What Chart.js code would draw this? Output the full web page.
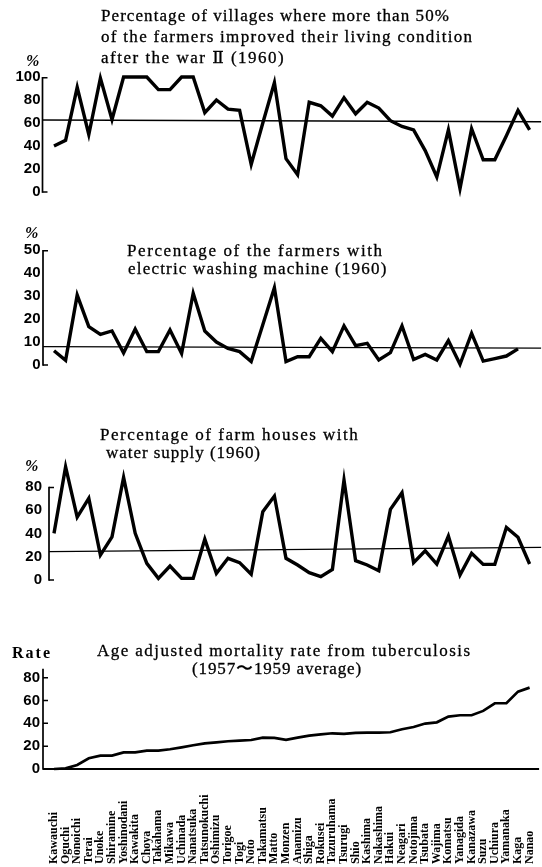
<!DOCTYPE html>
<html>
<head>
<meta charset="utf-8">
<script src="https://cdn.jsdelivr.net/npm/chart.js@4.4.1/dist/chart.umd.min.js"></script>
<style>
  html, body { margin: 0; padding: 0; background: #fff; }
  #page { position: relative; width: 542px; height: 867px; overflow: hidden; }
  #page canvas { position: absolute; left: 0; top: 0; }
  .t { position: absolute; white-space: pre; font-family: 'Liberation Serif', 'DejaVu Serif', serif; font-size: 17px; line-height: 17px; color: #000; -webkit-text-stroke: 0.3px #000; }
  .unit { position: absolute; white-space: pre; font-family: 'Liberation Serif', serif; font-weight: bold; font-size: 16px; line-height: 16px; color: #000; }
</style>
</head>
<body>
<div id="page">
  <canvas id="living" width="542" height="867"></canvas>
  <canvas id="washing" width="542" height="867"></canvas>
  <canvas id="water" width="542" height="867"></canvas>
  <canvas id="tb" width="542" height="867"></canvas>

  <div class="t" style="left:101px;top:6.5px;letter-spacing:1.07px">Percentage of villages where more than 50%</div>
  <div class="t" style="left:101px;top:27.5px;letter-spacing:1.3px">of the farmers improved their living condition</div>
  <div class="t" style="left:101px;top:48.5px;letter-spacing:1.5px">after the war Ⅱ (1960)</div>
  <div class="unit" style="left:26px;top:52.6px;font-style:italic">%</div>

  <div class="unit" style="left:25px;top:224.6px;font-style:italic">%</div>
  <div class="t" style="left:127px;top:241.5px;letter-spacing:1.6px">Percentage of the farmers with</div>
  <div class="t" style="left:128px;top:260.1px;letter-spacing:1.2px">electric washing machine (1960)</div>

  <div class="t" style="left:100px;top:426.3px;letter-spacing:1.5px">Percentage of farm houses with</div>
  <div class="t" style="left:106px;top:443.8px;letter-spacing:0.95px">water supply (1960)</div>
  <div class="unit" style="left:25px;top:457.6px;font-style:italic">%</div>

  <div class="unit" style="left:12px;top:644.6px;letter-spacing:2px">Rate</div>
  <div class="t" style="left:97px;top:641.5px;letter-spacing:1.45px">Age adjusted mortality rate from tuberculosis</div>
  <div class="t" style="left:192px;top:659.6px;letter-spacing:0.87px">(1957〜1959 average)</div>
</div>

<script>
const villages = [
  'Kawauchi', 'Oguchi', 'Nonoichi', 'Terai', 'Unoke', 'Shiramine', 'Yoshinodani',
  'Kawakita', 'Choya', 'Takahama', 'Mikawa', 'Uchinada', 'Nanatsuka', 'Tatsunokuchi',
  'Oshimizu', 'Torigoe', 'Togi', 'Noto', 'Takamatsu', 'Matto', 'Monzen', 'Anamizu',
  'Shiga', 'Rokusei', 'Tazuruhama', 'Tsurugi', 'Shio', 'Kashima', 'Nakashima', 'Hakui',
  'Neagari', 'Notojima', 'Tsubata', 'Wajima', 'Komatsu', 'Yanagida', 'Kanazawa', 'Suzu',
  'Uchiura', 'Yamanaka', 'Kaga', 'Nanao'
];

// % of villages where >50% of farmers improved their living (1960)
const livingImproved = [
  40, 45, 91, 50, 99, 63, 100, 100, 100, 89, 89, 100, 100, 69, 80, 72, 71, 24, 60, 95,
  29, 15, 78, 75, 66, 82, 68, 78, 73, 62, 57, 54, 36, 13, 54, 3, 55, 28, 28, 49, 71, 54
];
const livingRef = [62.6, 61.1];

// % of farmers owning an electric washing machine (1960), no figure for Nanao
const washingMachine = [
  6.2, 2, 30.4, 16.7, 13.3, 14.8, 5.2, 15.6, 5.8, 5.8, 15.2, 5, 31.2, 14.8, 10, 7.2, 5.8,
  1.5, 17.5, 33.6, 1.5, 3.6, 3.6, 11.6, 5.8, 17, 8.4, 9.4, 2.2, 5.4, 17, 2.4, 4.6, 2.2,
  10.6, 0.3, 13.8, 1.7, 2.8, 3.9, 7, null
];
const washingRef = [8.0, 7.3];

// % of farm houses with water supply (1960)
const waterSupply = [
  40, 97, 54, 70, 21.4, 37, 88, 40, 14.3, 1.4, 12, 1.4, 1.4, 35, 5.7, 18.6, 14.9, 5, 58.6,
  72, 18.6, 12.9, 6.3, 2.9, 9.1, 85.8, 16.6, 12.9, 8, 60.6, 74.9, 14.9, 25, 13.7, 37.7,
  4.3, 22.9, 13.4, 13.4, 45, 36.6, 13.7
];
const waterRef = [24.3, 28.0];

// age adjusted TB mortality rate, 1957-1959 average
const tbMortality = [
  0, 0.6, 3.5, 9.4, 11.7, 11.7, 14.6, 14.6, 16.1, 16.1, 17.3, 19, 20.8, 22.5, 23.4, 24.3,
  24.9, 25.4, 27.5, 27.2, 25.5, 27.5, 29.2, 30.4, 31.3, 30.7, 31.6, 31.9, 31.9, 32.2, 34.8,
  36.8, 39.8, 40.9, 45.9, 47.1, 47.1, 50.9, 57.6, 57.6, 67.8, 71.3
];

// y axis drawn as a bracket (or with tick marks), plus the horizontal reference line
function makeFrame(cfg) {
  return {
    id: 'frame',
    afterDatasetsDraw(chart) {
      const { ctx, chartArea, scales: { y } } = chart;
      const axisX = chartArea.left - cfg.axisGap;
      const rightX = chartArea.right + cfg.reach;
      const top = y.getPixelForValue(cfg.axisTop) - (cfg.overshoot || 0);
      const bottom = y.getPixelForValue(0);
      ctx.save();
      ctx.strokeStyle = '#000';

      if (cfg.ref) {
        ctx.lineWidth = cfg.refWidth || 1.3;
        ctx.beginPath();
        ctx.moveTo(axisX, y.getPixelForValue(cfg.ref[0]));
        ctx.lineTo(rightX, y.getPixelForValue(cfg.ref[1]));
        ctx.stroke();
      }

      ctx.lineWidth = 1.7;
      ctx.beginPath();
      ctx.moveTo(axisX, top);
      ctx.lineTo(axisX, bottom + 0.8);
      ctx.stroke();

      ctx.lineWidth = 1.5;
      ctx.beginPath();
      if (cfg.tickMarks) {
        y.ticks.forEach(t => {
          const py = y.getPixelForValue(t.value);
          ctx.moveTo(axisX, py);
          ctx.lineTo(axisX + 5, py);
        });
      } else {
        ctx.moveTo(axisX, top + 0.75);
        ctx.lineTo(axisX + 5, top + 0.75);
        ctx.moveTo(axisX, bottom);
        ctx.lineTo(axisX + 5, bottom);
      }
      ctx.stroke();
      ctx.restore();
    }
  };
}

// village names written upward from a common bottom line
const villageLabels = {
  id: 'villageLabels',
  afterDraw(chart) {
    const { ctx, scales: { x } } = chart;
    ctx.save();
    ctx.font = 'bold 12px "Liberation Serif", serif';
    ctx.fillStyle = '#000';
    ctx.textAlign = 'left';
    ctx.textBaseline = 'middle';
    x.getLabels().forEach((name, i) => {
      ctx.save();
      ctx.translate(x.getPixelForValue(i), 864);
      ctx.rotate(-Math.PI / 2);
      ctx.fillText(name, 0, 0);
      ctx.restore();
    });
    ctx.restore();
  }
};

function makeChart(id, values, cfg) {
  const plugins = [makeFrame(cfg)];
  if (cfg.withLabels) plugins.push(villageLabels);
  return new Chart(document.getElementById(id), {
    type: 'line',
    data: {
      labels: villages,
      datasets: [{
        data: values,
        borderColor: '#000',
        borderWidth: cfg.lineWidth,
        pointRadius: 0,
        tension: 0,
        fill: false,
        clip: false
      }]
    },
    options: {
      responsive: false,
      animation: false,
      devicePixelRatio: 1,
      events: [],
      layout: { padding: { top: cfg.top, bottom: 867 - cfg.bottom, left: 0, right: 12.4 } },
      scales: {
        x: { display: false },
        y: {
          min: 0,
          max: cfg.max,
          grid: { display: false, drawTicks: false },
          border: { display: false },
          ticks: {
            stepSize: cfg.step,
            padding: cfg.labelGap,
            color: '#000',
            font: { family: 'Liberation Sans', weight: 'bold', size: 15 }
          },
          afterBuildTicks(scale) {
            scale.ticks = scale.ticks.filter(t => t.value <= cfg.axisTop);
          },
          afterFit(scale) { scale.width = 54; }
        }
      },
      plugins: {
        legend: { display: false },
        tooltip: { enabled: false }
      }
    },
    plugins
  });
}

makeChart('living', livingImproved, {
  top: 77, bottom: 192, max: 100, step: 20, axisTop: 100,
  lineWidth: 3.4, labelGap: 13.5, axisGap: 11.5, reach: 11.5, ref: livingRef
});

makeChart('washing', washingMachine, {
  top: 250, bottom: 365, max: 50, step: 10, axisTop: 50,
  lineWidth: 3.4, labelGap: 13.5, axisGap: 11, reach: 11.5, ref: washingRef
});

makeChart('water', waterSupply, {
  top: 463.4, bottom: 580, max: 100, step: 20, axisTop: 80,
  lineWidth: 3.4, labelGap: 12, axisGap: 5, reach: 11.5, ref: waterRef
});

makeChart('tb', tbMortality, {
  top: 677.7, bottom: 769, max: 80, step: 20, axisTop: 80, overshoot: 9,
  lineWidth: 2.7, labelGap: 14, axisGap: 11, reach: 9.5, tickMarks: true,
  ref: [0, 0], refWidth: 1.8, withLabels: true
});
</script>
</body>
</html>
